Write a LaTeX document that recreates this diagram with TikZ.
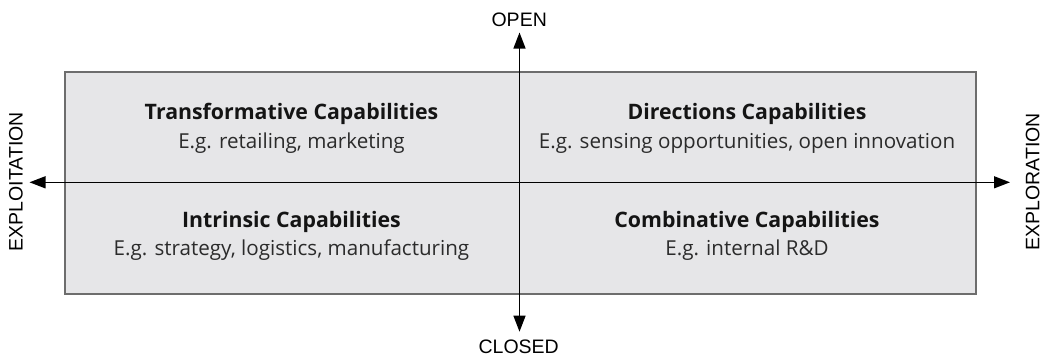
\documentclass[tikz,border=0pt]{standalone}
\usepackage{fontspec}
\setmainfont{Open Sans}
\newfontfamily\axisfont{Liberation Sans}
\usetikzlibrary{arrows.meta}
\definecolor{boxfill}{HTML}{E6E6E8}
\definecolor{boxline}{HTML}{6D6D6D}
\definecolor{txt}{HTML}{141414}
\definecolor{subtxt}{HTML}{2B2B2B}
\begin{document}
\begin{tikzpicture}[x=1pt,y=-1pt,
  axislabel/.style={font=\axisfont\fontsize{19.5}{19.5}\selectfont, text=black, inner sep=0pt},
  titletext/.style={font=\fontsize{21.3}{21.3}\selectfont\bfseries, text=txt, inner sep=0pt, anchor=base},
  subtext/.style={font=\fontsize{20.6}{20.6}\selectfont, text=subtxt, inner sep=0pt, anchor=base},
  axisline/.style={line width=1.3pt, black, {Triangle[length=16pt,width=12pt]}-{Triangle[length=16pt,width=12pt]}}]
\useasboundingbox (0,0) rectangle (1046,357);
\node[draw=boxline, fill=boxfill, line width=2pt, minimum width=911pt, minimum height=222.5pt, inner sep=0pt, anchor=north west] (box) at (64,70.8) {};
\coordinate (leftend) at (29.5,182.3);
\coordinate (rightend) at (1010,182.3);
\coordinate (topend) at (519.5,32.5);
\coordinate (bottomend) at (519.5,331.7);
\draw[axisline] (leftend) -- (rightend);
\draw[axisline] (topend) -- (bottomend);
\node[titletext] (t1) at (291.5,119.3) {Transformative Capabilities};
\node[subtext] (s1) at (291.5,148) {E.g. retailing, marketing};
\node[titletext] (t2) at (747,119.3) {Directions Capabilities};
\node[subtext] (s2) at (747,148) {E.g. sensing opportunities, open innovation};
\node[titletext] (t3) at (291.5,227.8) {Intrinsic Capabilities};
\node[subtext] (s3) at (291.5,255.7) {E.g. strategy, logistics, manufacturing};
\node[titletext] (t4) at (747,227.8) {Combinative Capabilities};
\node[subtext] (s4) at (747,255.7) {E.g. internal R\&D};
\node[axislabel, anchor=base] (open) at (519.2,26.7) {OPEN};
\node[axislabel, anchor=base] (closed) at (518.7,353.3) {CLOSED};
\node[axislabel, anchor=base, rotate=90] (exploit) at (22.7,181.7) {EXPLOITATION};
\node[axislabel, anchor=base, rotate=90] (explore) at (1039.3,181.7) {EXPLORATION};
\end{tikzpicture}
\end{document}
